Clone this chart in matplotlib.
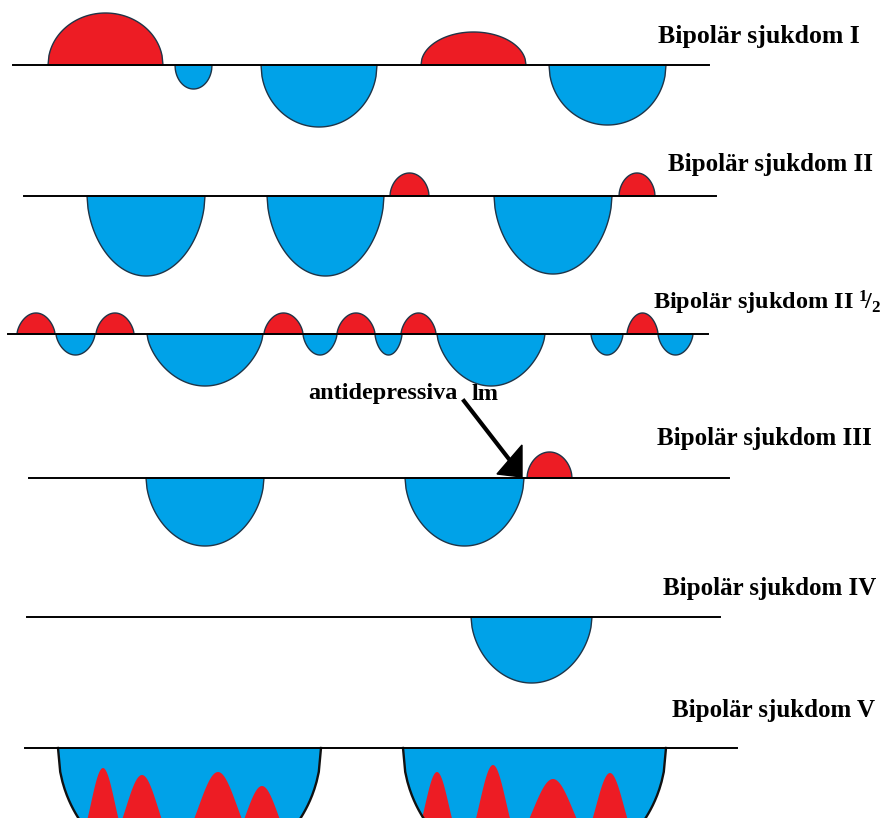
import numpy as np
import matplotlib.pyplot as plt
from matplotlib.patches import Polygon

plt.rcParams["mathtext.fontset"] = "custom"
plt.rcParams["mathtext.rm"] = "Liberation Serif:bold"
plt.rcParams["mathtext.it"] = "Liberation Serif:bold"
plt.rcParams["mathtext.bf"] = "Liberation Serif:bold"

W, H = 893, 818
RED = "#ED1C24"
BLUE = "#00A2E8"
EDGE = "#1F3447"
FONT = "Liberation Serif"

# ── Data: episodes per course (onset, offset, mood: + mania / - depression) ──
ROW_LABELS = [
    "Bipolär sjukdom I",
    "Bipolär sjukdom II",
    "Bipolär sjukdom II $^{1}\\!/_{2}$",
    "Bipolär sjukdom III",
    "Bipolär sjukdom IV",
    "Bipolär sjukdom V",
]

I_ONSET = [48, 175, 261, 421, 549]
I_OFFSET = [163, 212, 377, 526, 666]
I_MOOD = [52, -24, -62, 33, -60]

II_ONSET = [87, 267, 390, 494, 619]
II_OFFSET = [205, 384, 429, 612, 655]
II_MOOD = [-80, -80, 23, -78, 23]

IIH_ONSET = [17, 56, 96, 147, 264, 303, 337, 375, 401, 437, 591, 627, 658]
IIH_OFFSET = [55, 95, 134, 263, 303, 337, 375, 402, 436, 545, 623, 658, 693]
IIH_MOOD = [21, -21, 21, -52, 21, -21, 21, -21, 21, -52, -21, 21, -21]

III_ONSET = [146, 405, 527]
III_OFFSET = [264, 524, 572]
III_MOOD = [-68, -68, 26]

IV_ONSET = [471]
IV_OFFSET = [592]
IV_MOOD = [-66]

V_ONSET = [58, 403]
V_OFFSET = [321, 666]
V_MOOD = [-131, -131]

# mixed (manic) bursts inside the depressions of type V
V_BURST_AT = [103, 142, 218, 262, 437, 493, 553, 610]
V_BURST_DEPTH = [20, 27, 24, 38, 24, 17, 31, 25]
V_BURST_SPREAD = [12, 16, 19, 16, 12, 13, 20, 14]

ROWS = [
    (I_ONSET, I_OFFSET, I_MOOD),
    (II_ONSET, II_OFFSET, II_MOOD),
    (IIH_ONSET, IIH_OFFSET, IIH_MOOD),
    (III_ONSET, III_OFFSET, III_MOOD),
    (IV_ONSET, IV_OFFSET, IV_MOOD),
    (V_ONSET, V_OFFSET, V_MOOD),
]

# ── Layout (pixels) ──
BASE_Y = [65, 196, 334, 478, 617, 748]
LINE_X = [(13, 709), (24, 716), (8, 708), (29, 729), (27, 720), (25, 737)]
LABEL_XY = [(658, 37), (668, 164), (653, 303), (657, 438), (663, 588), (672, 710)]
LABEL_SIZE = [18.5, 18, 17.5, 18, 18, 18]
SHAPE_P = [0.5, 0.55, 0.65, 0.55, 0.55, 0.5]

fig = plt.figure(figsize=(W / 100, H / 100), dpi=100)
ax = fig.add_axes([0, 0, 1, 1])
ax.set_xlim(0, W)
ax.set_ylim(H, 0)
ax.axis("off")


def lobe(x0, x1, amp, base, p, n=120):
    t = np.linspace(-1, 1, n)
    xs = x0 + (t + 1) / 2 * (x1 - x0)
    ys = base - amp * (1 - t ** 2) ** p
    return xs, ys


for r, (ons, offs, moods) in enumerate(ROWS):
    base = BASE_Y[r]
    for x0, x1, m in zip(ons, offs, moods):
        xs, ys = lobe(x0, x1, m, base, SHAPE_P[r])
        fc = RED if m > 0 else BLUE
        if r == 5:
            patch = Polygon(np.column_stack([xs, ys]), closed=True, facecolor=fc,
                            edgecolor="none", zorder=2)
            ax.add_patch(patch)
            for c, d, s in zip(V_BURST_AT, V_BURST_DEPTH, V_BURST_SPREAD):
                if x0 < c < x1:
                    bx = np.linspace(c - 4 * s, c + 4 * s, 160)
                    bottom = base + 110
                    by = bottom - (bottom - (base + d)) * np.exp(-((bx - c) ** 2) / (2 * s ** 2))
                    bx = np.concatenate([[bx[0]], bx, [bx[-1]]])
                    by = np.concatenate([[bottom + 20], by, [bottom + 20]])
                    sp = ax.fill(bx, by, color=RED, lw=0, zorder=3)[0]
                    sp.set_clip_path(patch)
            ax.plot(xs, ys, color="#111111", lw=1.7, zorder=4)
        else:
            ax.fill(xs, ys, facecolor=fc, edgecolor=EDGE, lw=1.0, zorder=2)
    ax.plot(LINE_X[r], [base, base], color="black", lw=1.4, zorder=5)
    lx, ly = LABEL_XY[r]
    ax.text(lx, ly, ROW_LABELS[r], fontsize=LABEL_SIZE[r], fontweight="bold", fontfamily=FONT,
            ha="left", va="center", color="black", zorder=6)

# ── Annotation: antidepressant-induced switch ──
ax.text(308, 394, "antidepressiva", fontsize=17.5, fontweight="bold", fontfamily=FONT,
        ha="left", va="center", color="black")
ax.text(472, 394, "lm", fontsize=17.5, fontweight="bold", fontfamily=FONT,
        ha="left", va="center", color="black")

TAIL = (464, 401)
TIP = (522, 477)
ax.plot([TAIL[0], TIP[0] - 10], [TAIL[1], TIP[1] - 14], color="black", lw=3.0, zorder=6)
ax.add_patch(Polygon([(TIP[0] - 25, TIP[1] - 3), (TIP[0], TIP[1] - 32), TIP],
                     closed=True, facecolor="black", edgecolor="black", zorder=6))

fig.savefig("out.png", dpi=100, facecolor="white")
